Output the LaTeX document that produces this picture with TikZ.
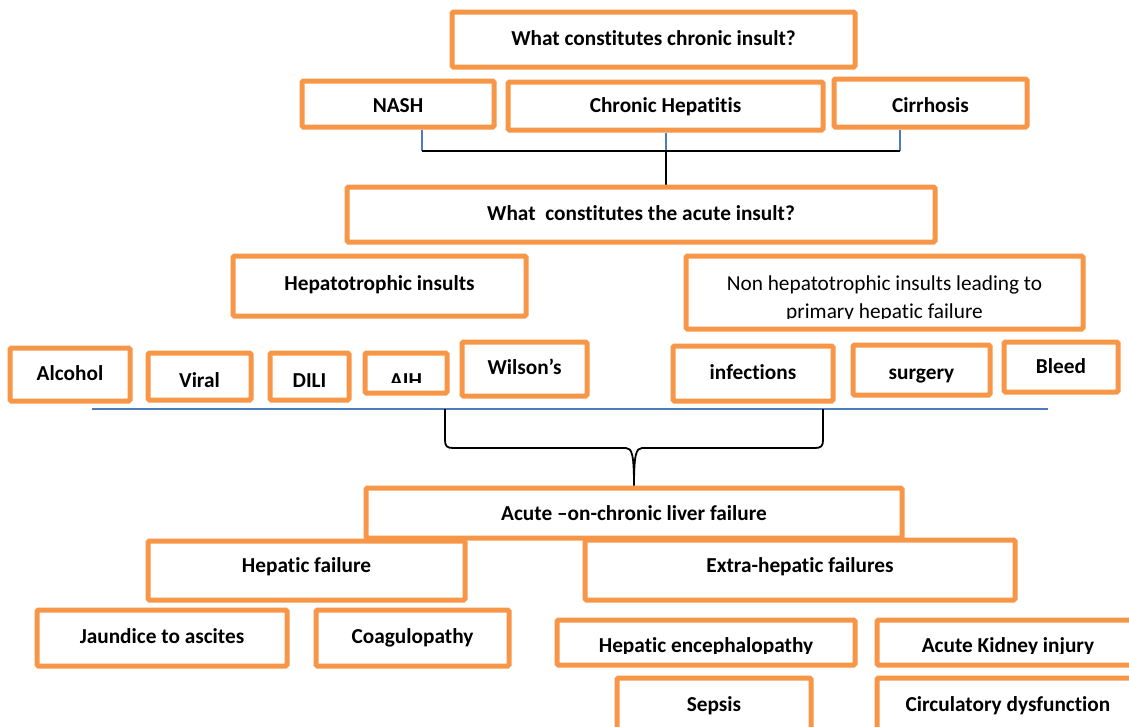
\documentclass[tikz,border=0pt]{standalone}
\usepackage{fontspec}
\setmainfont{Carlito}[Ligatures=NoCommon]
\usetikzlibrary{calc,backgrounds}
\definecolor{boxorange}{HTML}{F79646}
\definecolor{linkblue}{HTML}{4A7EBB}

\tikzset{
  frame/.style={draw=boxorange, line width=5pt, rounded corners=1.5pt, inner sep=0pt},
  lbl/.style={font=\fontsize{21.3}{28}\selectfont\bfseries, inner sep=0pt, anchor=base},
  plain/.style={font=\fontsize{21.3}{28}\selectfont, inner sep=0pt, anchor=base},
  stub/.style={draw=linkblue, line width=1.8pt},
  tie/.style={draw=black, line width=1.8pt},
}

% #1 name, #2 left, #3 top, #4 right, #5 bottom, #6 lowest visible text line,
% #7 text baseline, #8 text style, #9 text
\newcommand\flowbox[9]{%
  \begin{scope}
    \clip (#2,#3) rectangle (#4,#6);
    \node[#8] (#1-text) at ({(#2+#4)/2},#7) {#9};
  \end{scope}
  \node[frame, minimum width={#4-#2}, minimum height={#5-#3}] (#1)
    at ({(#2+#4)/2},{(#3+#5)/2}) {};
}

\begin{document}
\begin{tikzpicture}[x=1pt, y=-1pt]
\useasboundingbox (0,0) rectangle (1129,726);

% chronic insult
\flowbox{chronic}{452}{12}{855}{67}{67}{45}{lbl}{What constitutes chronic insult?}
\flowbox{nash}{302}{81}{494}{127}{127}{112}{lbl}{NASH}
\flowbox{chep}{508}{82}{823}{130}{130}{112}{lbl}{Chronic Hepatitis}
\flowbox{cirr}{834}{79}{1027}{127}{127}{112}{lbl}{Cirrhosis}

% acute insult
\flowbox{acute}{347}{187}{935}{242}{242}{220}{lbl}{What\ \ constitutes the acute insult?}
\flowbox{hept}{233}{256}{526}{316}{316}{290}{lbl}{Hepatotrophic insults}

\begin{scope}
  \clip (686,256) rectangle (1083,318);
  \node[plain] (nonhep-text) at (884.5,290) {Non hepatotrophic insults leading to};
  \node[plain] (nonhep-text2) at (884.5,318) {primary hepatic failure};
\end{scope}
\node[frame, minimum width=397, minimum height=73] (nonhep) at (884.5,292.5) {};

\flowbox{alcohol}{10}{348}{130}{401}{401}{380}{lbl}{Alcohol}
\flowbox{viral}{148}{353}{251}{400}{400}{387}{lbl}{Viral}
\flowbox{dili}{270}{353}{349}{400}{400}{387}{lbl}{DILI}
\flowbox{aih}{365}{353}{447}{393}{382}{387}{lbl}{AIH}
\flowbox{wilson}{462}{342}{587}{396}{396}{374}{lbl}{Wilson’s}
\flowbox{infect}{673}{346}{833}{401}{401}{379}{lbl}{infections}
\flowbox{surgery}{853}{345}{990}{395}{395}{379}{lbl}{surgery}
\flowbox{bleed}{1004}{342}{1118}{392}{392}{373}{lbl}{Bleed}

% acute-on-chronic liver failure
\flowbox{aclf}{366}{488}{902}{538}{538}{520}{lbl}{Acute –on-chronic liver failure}
\flowbox{hepf}{148}{541}{465}{600}{600}{572}{lbl}{Hepatic failure}
\flowbox{extra}{585}{540}{1015}{600}{600}{572}{lbl}{Extra-hepatic failures}
\flowbox{jaund}{37}{610}{287}{666}{666}{643}{lbl}{Jaundice to ascites}
\flowbox{coag}{316}{610}{509}{666}{666}{643}{lbl}{Coagulopathy}
\flowbox{he}{557}{620}{855}{665}{653}{652}{lbl}{Hepatic encephalopathy}
\flowbox{aki}{877}{620}{1139}{665}{653}{652}{lbl}{Acute Kidney injury}
\flowbox{sepsis}{617}{678}{811}{735}{735}{711}{lbl}{Sepsis}
\flowbox{circ}{877}{678}{1139}{735}{735}{711}{lbl}{Circulatory dysfunction}

% connectors
\begin{scope}[on background layer]
  \coordinate (jL) at (422,151);
  \coordinate (jM) at (666,151);
  \coordinate (jR) at (900,151);
  \draw[stub] (jL |- nash.south) -- (jL);
  \draw[stub] (jM |- chep.south) -- (jM);
  \draw[stub] (jR |- cirr.south) -- (jR);
  \draw[tie] (jL) -- (jR);
  \draw[tie] (jM) -- (jM |- acute.north);

  \coordinate (rl) at (92,409);
  \coordinate (rr) at (1048,409);
  \draw[stub] (rl) -- (rr);

  \coordinate (bl) at (445,409);
  \coordinate (br) at (823,409);
  \draw[tie] (bl) -- (445,440) .. controls (445,446) and (447,448) .. (453,448)
    -- (626,448) .. controls (632,448) and (634,455) .. (aclf.north);
  \draw[tie] (br) -- (823,440) .. controls (823,446) and (821,448) .. (815,448)
    -- (642,448) .. controls (636,448) and (634,455) .. (aclf.north);
\end{scope}
\end{tikzpicture}
\end{document}
